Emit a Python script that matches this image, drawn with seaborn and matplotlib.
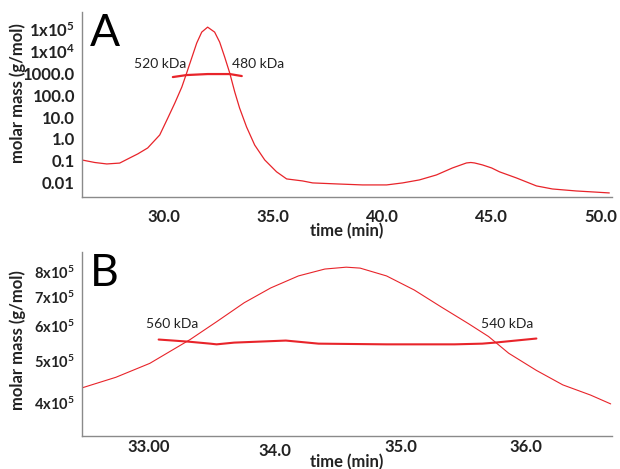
import numpy as np
import pandas as pd
import matplotlib
matplotlib.use("Agg")
import matplotlib.pyplot as plt
from matplotlib.ticker import FixedLocator, MultipleLocator, LogLocator, NullLocator, NullFormatter
from matplotlib.transforms import ScaledTranslation
import seaborn as sns

# ---------------- data ----------------
# Panel A: detector trace (time in min, signal on log axis)
a_time = [26.27, 26.86, 27.41, 28.00, 28.46, 28.83, 29.28, 29.83, 30.20, 30.52,
          30.84, 31.06, 31.29, 31.52, 31.75, 32.02, 32.34, 32.57, 32.80, 33.03,
          33.26, 33.48, 33.80, 34.17, 34.63, 35.17, 35.63, 36.36, 36.82, 37.91,
          39.10, 40.20, 40.93, 41.70, 42.48, 43.21, 43.85, 44.05, 44.22, 44.58,
          45.00, 45.36, 46.13, 47.05, 47.78, 48.87, 49.60, 50.38]
a_signal = [0.111, 0.085, 0.073, 0.080, 0.137, 0.21, 0.39, 1.52, 9.0, 43,
            231, 1000, 4800, 23100, 73100, 123000, 73100, 25600, 5330, 1000,
            137, 25.6, 3.5, 0.53, 0.111, 0.032, 0.0152, 0.0123, 0.0100, 0.0090,
            0.0081, 0.0081, 0.0100, 0.0137, 0.0231, 0.048, 0.081, 0.085, 0.081, 0.066,
            0.048, 0.032, 0.0169, 0.0073, 0.0053, 0.0043, 0.0039, 0.0035]
# Panel A: molar mass across the peak
a_mm_time = [30.43, 31.06, 32.02, 33.03, 33.58]
a_mm_value = [658, 811, 901, 901, 731]

# Panel B: detector trace (zoom on peak)
b_time = [32.47, 32.74, 33.01, 33.17, 33.33, 33.54, 33.76, 33.97, 34.19, 34.40,
          34.57, 34.68, 34.89, 35.11, 35.32, 35.54, 35.70, 35.86, 36.08, 36.29,
          36.51, 36.67]
b_signal = [4.33e5, 4.58e5, 4.93e5, 5.25e5, 5.59e5, 6.14e5, 6.79e5, 7.34e5, 7.82e5, 8.11e5,
            8.19e5, 8.15e5, 7.82e5, 7.26e5, 6.65e5, 6.08e5, 5.68e5, 5.20e5, 4.75e5, 4.40e5,
            4.17e5, 3.98e5]
# Panel B: molar mass across the peak
b_mm_time = [33.08, 33.31, 33.49, 33.54, 33.68, 34.09, 34.35, 34.89, 35.43, 35.65,
             35.75, 36.08]
b_mm_value = [5.59e5, 5.53e5, 5.47e5, 5.45e5, 5.50e5, 5.56e5, 5.47e5, 5.45e5, 5.45e5, 5.47e5,
              5.50e5, 5.62e5]

# tick labels
a_xticks = [30.0, 35.0, 40.0, 45.0, 50.0]
a_xticklabels = ["30.0", "35.0", "40.0", "45.0", "50.0"]
a_yticks = [0.01, 0.1, 1, 10, 100, 1000, 1e4, 1e5]
a_yticklabels = ["0.01", "0.1", "1.0", "10.0", "100.0", "1000.0", "1x10$^{4}$", "1x10$^{5}$"]
b_xticks = [33.0, 34.0, 35.0, 36.0]
b_xticklabels = ["33.00", "34.0", "35.0", "36.0"]
b_yticks = [4e5, 5e5, 6e5, 7e5, 8e5]
b_yticklabels = ["4x10$^{5}$", "5x10$^{5}$", "6x10$^{5}$", "7x10$^{5}$", "8x10$^{5}$"]

a_labels = [("520 kDa", 29.83, 2570), ("480 kDa", 34.31, 2570)]
b_labels = [("560 kDa", 33.19, 6.08e5), ("540 kDa", 35.85, 6.08e5)]

# ---------------- style ----------------
sns.set_theme(style="white")
plt.rcParams['font.family'] = ['Lato', 'DejaVu Sans']
plt.rcParams['mathtext.default'] = 'regular'

RED = "#e8242a"
SPINE = "#8a8a8a"
TXT = "#222222"

fig = plt.figure(figsize=(6.2, 4.69), dpi=100)
axA = fig.add_axes([0.132, 0.580, 0.855, 0.394])
axB = fig.add_axes([0.132, 0.0704, 0.855, 0.3926])


def style_axes(ax, xpad):
    for s in ["top", "right"]:
        ax.spines[s].set_visible(False)
    for s in ["left", "bottom"]:
        ax.spines[s].set_color(SPINE)
        ax.spines[s].set_linewidth(1.0)
    ax.tick_params(axis="both", which="major", direction="out", length=3, width=0.8,
                   color=SPINE, labelsize=12, labelcolor=TXT, pad=2)
    ax.tick_params(axis="both", which="minor", direction="out", length=2, width=0.6,
                   color="#b0b0b0")
    ax.tick_params(axis="x", which="major", pad=xpad)
    for lab in ax.get_xticklabels() + ax.get_yticklabels():
        lab.set_fontweight("bold")


# ---- Panel A ----
sns.lineplot(x=a_time, y=a_signal, ax=axA, color=RED, lw=0.9, estimator=None, sort=False)
sns.lineplot(x=a_mm_time, y=a_mm_value, ax=axA, color=RED, lw=1.6, estimator=None, sort=False)
axA.set_yscale("log")
axA.set_xlim(26.27, 50.5)
axA.set_ylim(10 ** -2.64, 10 ** 5.77)
axA.xaxis.set_major_locator(FixedLocator(a_xticks))
axA.set_xticklabels(a_xticklabels)
axA.xaxis.set_minor_locator(MultipleLocator(1.0))
axA.yaxis.set_major_locator(FixedLocator(a_yticks))
axA.set_yticklabels(a_yticklabels)
axA.yaxis.set_minor_locator(LogLocator(base=10, subs=np.arange(2, 10)))
axA.yaxis.set_minor_formatter(NullFormatter())
style_axes(axA, 6)
axA.set_xlabel("time (min)", fontsize=12, fontweight="bold", color=TXT, labelpad=-2)
axA.set_ylabel("molar mass (g/mol)", fontsize=12, fontweight="bold", color=TXT)
axA.yaxis.set_label_coords(-0.105, 0.56)
axA.text(0.015, 0.995, "A", transform=axA.transAxes, fontsize=32, color="black",
         ha="left", va="top")
for t, x, y in a_labels:
    axA.text(x, y, t, fontsize=10, color=TXT, ha="center", va="center")

# ---- Panel B ----
sns.lineplot(x=b_time, y=b_signal, ax=axB, color=RED, lw=0.8, estimator=None, sort=False)
sns.lineplot(x=b_mm_time, y=b_mm_value, ax=axB, color=RED, lw=1.5, estimator=None, sort=False)
axB.set_yscale("log")
axB.set_xlim(32.47, 36.68)
axB.set_ylim(3.36e5, 8.88e5)
axB.xaxis.set_major_locator(FixedLocator(b_xticks))
axB.set_xticklabels(b_xticklabels)
axB.xaxis.set_minor_locator(MultipleLocator(0.2))
axB.yaxis.set_major_locator(FixedLocator(b_yticks))
axB.set_yticklabels(b_yticklabels)
axB.yaxis.set_minor_locator(NullLocator())
axB.yaxis.set_minor_formatter(NullFormatter())
style_axes(axB, -1)
for lab in axB.get_yticklabels():
    lab.set_fontsize(10.5)
# the "34.0" label sits slightly lower in the reference
lab34 = axB.get_xticklabels()[1]
lab34.set_transform(lab34.get_transform() + ScaledTranslation(0, -4 / 100, fig.dpi_scale_trans))
axB.set_xlabel("time (min)", fontsize=12, fontweight="bold", color=TXT, labelpad=-3.5)
axB.set_ylabel("molar mass (g/mol)", fontsize=12, fontweight="bold", color=TXT)
axB.yaxis.set_label_coords(-0.105, 0.52)
axB.text(0.015, 0.995, "B", transform=axB.transAxes, fontsize=32, color="black",
         ha="left", va="top")
for t, x, y in b_labels:
    axB.text(x, y, t, fontsize=10, color=TXT, ha="center", va="center")

fig.savefig("out.png", dpi=100, facecolor="white")
